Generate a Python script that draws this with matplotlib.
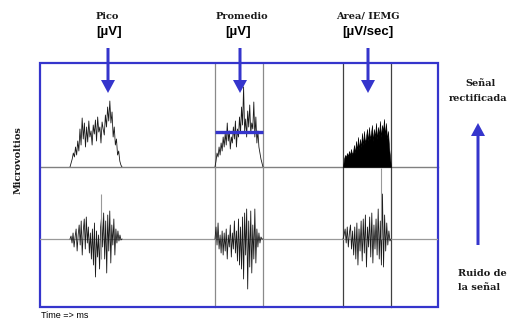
import numpy as np
import matplotlib.pyplot as plt
from matplotlib.patches import Rectangle, FancyArrow

# rectified signal (upper row), heights in uV above baseline
pico_rect = [0, 4, 8, 14, 10, 20, 12, 26, 16, 38, 22, 49, 28, 44, 20, 40, 25, 46, 30, 36,
             22, 42, 33, 47, 26, 50, 35, 40, 24, 45, 38, 32, 52, 40, 60, 46, 66, 44, 55, 30,
             40, 22, 28, 12, 16, 6, 2, 0]
prom_rect = [0, 6, 14, 10, 20, 12, 24, 16, 30, 20, 34, 22, 44, 26, 36, 18, 30, 24, 40, 28,
             46, 20, 38, 30, 50, 34, 60, 42, 80, 36, 48, 30, 56, 40, 62, 34, 44, 38, 65, 30,
             50, 24, 36, 20, 14, 8, 4, 0]
area_rect = [0, 8, 12, 10, 14, 11, 16, 12, 18, 13, 15, 22, 14, 26, 17, 30, 18, 28, 20, 34,
             22, 36, 24, 30, 38, 26, 40, 28, 34, 42, 26, 38, 30, 44, 28, 40, 32, 46, 30, 42,
             36, 48, 32, 44, 28, 36, 20, 10, 0]
promedio_level = 35

# raw signal (lower row)
pico_raw = [0, 3, -4, 6, -8, 2, 10, -12, 4, 14, -6, 18, -16, 8, 20, -10, 22, -4, 12, -14,
            6, -20, 10, -26, 16, -38, 8, -18, 4, -30, 12, 22, -8, 26, -20, 18, -34, 24, -12, 28,
            -24, 14, -6, 20, -16, 10, -4, 8, -2, 4, -1, 0]
prom_raw = [0, 12, -6, 16, -10, 4, -14, 8, -16, 6, -12, 10, -20, 4, -8, 14, -18, 6, -10, 18,
            -14, 8, -22, 20, -26, 12, -30, 22, -40, 26, -16, 30, -50, 18, -28, 28, -34, 14, -20, 30,
            -24, 10, -8, 6, -4, 2, 0, 0]
area_raw = [0, 4, 10, -4, 12, -8, 6, 14, -10, 8, -16, 12, -20, 16, -26, 10, -12, 18, -22, 20,
            -14, 24, -28, 12, -8, 22, -18, 26, -24, 14, -10, 20, -16, 30, -20, 18, -26, 45, -28, 24,
            -12, 16, -6, 8, -2, 0]

# burst start / end times (ms from left of box)
t_start = [30, 175, 303]
t_end = [82, 223, 351]
windows = [175, 223, 303, 351]

# gray overlay spikes in raw traces
spike_t = [61, 341]
spike_lo = [-20, 0]
spike_hi = [45, 71]

blue = '#3535cc'
W, H = 509, 322
fig = plt.figure(figsize=(W / 100, H / 100), dpi=100)

bg = fig.add_axes([0, 0, 1, 1])
bg.set_xlim(0, W)
bg.set_ylim(H, 0)
bg.axis('off')

box_l, box_r, box_t, box_b = 40, 438, 63, 307
mid_y, base_lo = 167, 239

def fig_rect(x0, x1, y0, y1):
    return [x0 / W, 1 - y1 / H, (x1 - x0) / W, (y1 - y0) / H]

up = fig.add_axes(fig_rect(box_l, box_r, box_t, mid_y))
up.set_xlim(0, box_r - box_l)
up.set_ylim(0, mid_y - box_t)
lo = fig.add_axes(fig_rect(box_l, box_r, mid_y, box_b))
lo.set_xlim(0, box_r - box_l)
lo.set_ylim(-(box_b - base_lo), base_lo - mid_y)
for ax in (up, lo):
    ax.axis('off')
    ax.patch.set_alpha(0)

# grid lines
bg.plot([box_l, box_r], [mid_y, mid_y], color='#808080', lw=1.0, zorder=1)
lo.axhline(0, color='#999999', lw=0.9, zorder=1)
for i, x in enumerate(windows):
    c = '#8a8a8a' if i < 2 else '#404040'
    bg.plot([box_l + x, box_l + x], [box_t, box_b], color=c, lw=0.9, zorder=1)

# upper rectified traces
for s, e, v in zip(t_start[:2], t_end[:2], [pico_rect, prom_rect]):
    t = np.linspace(s, e, len(v))
    up.plot(t, v, color='#1a1a1a', lw=0.6)
t = np.linspace(t_start[2], t_end[2], len(area_rect))
up.fill_between(t, 0, area_rect, color='black', lw=0.4)
up.hlines(promedio_level, windows[0], windows[1], color=blue, lw=2.4, zorder=5)

# lower raw traces
for s, e, v in zip(t_start, t_end, [pico_raw, prom_raw, area_raw]):
    t = np.linspace(s, e, len(v))
    lo.plot(t, v, color='#1a1a1a', lw=0.6)
lo.vlines(spike_t, spike_lo, spike_hi, color='#999999', lw=0.8)

# blue frame
bg.add_patch(Rectangle((box_l, box_t), box_r - box_l, box_b - box_t, fill=False,
                       edgecolor=blue, lw=1.6, zorder=6))

# arrows
for x in [108, 240, 368]:
    bg.add_patch(FancyArrow(x, 48, 0, 45, width=3, head_width=14, head_length=13,
                            length_includes_head=True, color=blue, lw=0))
bg.add_patch(FancyArrow(478, 245, 0, -122, width=3, head_width=14, head_length=13,
                        length_includes_head=True, color=blue, lw=0))

serif = dict(family='DejaVu Serif', weight='bold', fontsize=7, color='#1a1a1a')
sans = dict(family='Liberation Sans', weight='bold', fontsize=9.5, color='black')
bg.text(107, 16, 'Pico', ha='center', va='center', **serif)
bg.text(109, 32, '[µV]', ha='center', va='center', **sans)
bg.text(242, 16, 'Promedio', ha='center', va='center', **serif)
bg.text(238, 32, '[µV]', ha='center', va='center', **sans)
bg.text(368, 16, 'Area/ IEMG', ha='center', va='center', **serif)
bg.text(368, 32, '[µV/sec]', ha='center', va='center', **sans)
bg.text(481, 83, 'Señal', ha='center', va='center', **serif)
bg.text(507, 98, 'rectificada', ha='right', va='center', **serif)
bg.text(458, 273, 'Ruido de', ha='left', va='center', **serif)
bg.text(458, 288, 'la señal', ha='left', va='center', **serif)
bg.text(18, 160, 'Microvoltios', ha='center', va='center', rotation=90, **serif)
bg.text(41, 316, 'Time => ms', ha='left', va='center', family='Liberation Sans',
        fontsize=6.5, color='black')

fig.savefig('out.png', dpi=100)
